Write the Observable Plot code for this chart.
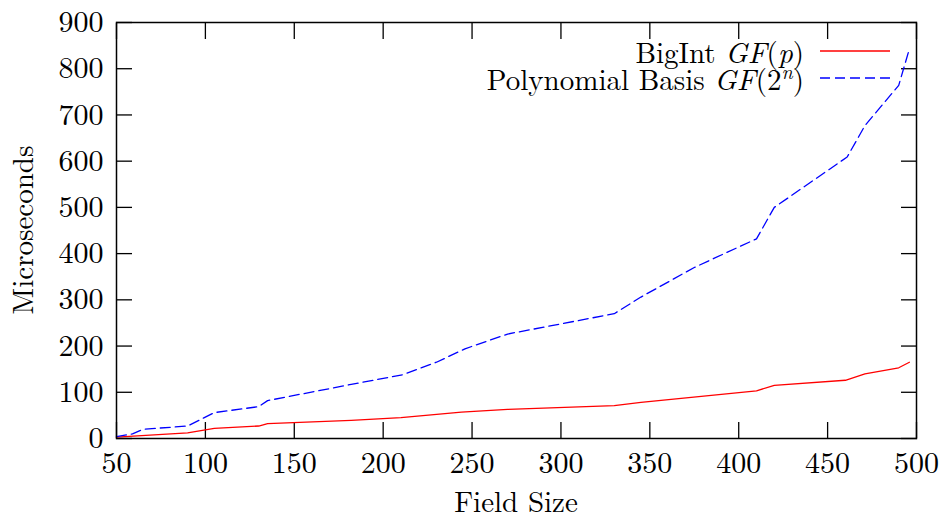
<!DOCTYPE html>
<html>
<head>
<meta charset="utf-8">
<script src="https://cdn.jsdelivr.net/npm/d3@7"></script>
<script src="https://cdn.jsdelivr.net/npm/@observablehq/plot@0.6"></script>
<style>
  html, body { margin: 0; padding: 0; background: #fff; }
  #chart { width: 947px; height: 520px; }
</style>
</head>
<body>
<div id="chart"></div>
<script>
// Field sizes and timings (microseconds)
const bigIntX = [50, 90, 105, 130, 135, 182, 210, 244, 270, 330, 345, 410, 420, 460, 471, 490, 496];
const bigIntY = [3, 12, 22, 27, 32, 39, 45, 57, 63, 71, 78, 103, 115, 126, 140, 153, 165];
const polyX = [50, 59, 65, 90, 105, 130, 135, 182, 211, 230, 246, 270, 330, 345, 375, 410, 420, 461, 471, 490, 496];
const polyY = [4, 10, 20, 27, 56, 69, 82, 117, 138, 165, 194, 226, 270, 306, 370, 432, 500, 609, 677, 764, 843];
const xTicks = [50, 100, 150, 200, 250, 300, 350, 400, 450, 500];
const yTicks = [0, 100, 200, 300, 400, 500, 600, 700, 800, 900];

const bigInt = bigIntX.map((x, i) => ({x, y: bigIntY[i]}));
const poly = polyX.map((x, i) => ({x, y: polyY[i]}));

const font = "Latin Modern Roman, serif";

const chart = Plot.plot({
  width: 947,
  height: 520,
  marginLeft: 116,
  marginRight: 31,
  marginTop: 22,
  marginBottom: 82,
  style: {fontFamily: font, fontSize: "30px", color: "#000", background: "#fff"},
  x: {domain: [50, 500]},
  y: {domain: [0, 900]},
  marks: [
    Plot.axisX(xTicks, {anchor: "bottom", tickSize: -16, tickPadding: 29, stroke: "#000", strokeWidth: 1.3, label: null}),
    Plot.axisX(xTicks, {anchor: "top", tickSize: -16, tickFormat: () => "", stroke: "#000", strokeWidth: 1.3, label: null}),
    Plot.axisY(yTicks, {anchor: "left", tickSize: -16, tickPadding: 29, stroke: "#000", strokeWidth: 1.3, label: null}),
    Plot.axisY(yTicks, {anchor: "right", tickSize: -16, tickFormat: () => "", stroke: "#000", strokeWidth: 1.3, label: null}),
    Plot.line(bigInt, {x: "x", y: "y", stroke: "#ff0000", strokeWidth: 1.3}),
    Plot.line(poly, {x: "x", y: "y", stroke: "#0000ff", strokeWidth: 1.3, strokeDasharray: "10,5"}),
    Plot.frame({stroke: "#000", strokeWidth: 1.5})
  ]
});

const svg = d3.select(chart);
// Axis titles
svg.append("text")
  .attr("x", 516).attr("y", 512)
  .attr("text-anchor", "middle")
  .attr("font-family", font).attr("font-size", 29)
  .text("Field Size");
svg.append("text")
  .attr("transform", "translate(33,230) rotate(-90)")
  .attr("text-anchor", "middle")
  .attr("font-family", font).attr("font-size", 29)
  .text("Microseconds");

// Legend
const leg = svg.append("g").attr("font-family", font).attr("font-size", 29);
const t1 = leg.append("text").attr("x", 804).attr("y", 63).attr("text-anchor", "end");
t1.append("tspan").text("BigInt ");
t1.append("tspan").attr("font-style", "italic").text("GF");
t1.append("tspan").text("(");
t1.append("tspan").attr("font-style", "italic").text("p");
t1.append("tspan").text(")");
const t2 = leg.append("text").attr("x", 804).attr("y", 90).attr("text-anchor", "end");
t2.append("tspan").text("Polynomial Basis ");
t2.append("tspan").attr("font-style", "italic").text("GF");
t2.append("tspan").text("(2");
t2.append("tspan").attr("font-style", "italic").attr("font-size", 20).attr("dy", -11).text("n");
t2.append("tspan").attr("dy", 11).text(")");
leg.append("line").attr("x1", 820).attr("x2", 890).attr("y1", 51).attr("y2", 51)
  .attr("stroke", "#ff0000").attr("stroke-width", 1.3);
leg.append("line").attr("x1", 820).attr("x2", 890).attr("y1", 78).attr("y2", 78)
  .attr("stroke", "#0000ff").attr("stroke-width", 1.3).attr("stroke-dasharray", "10,5");

document.getElementById("chart").appendChild(chart);
</script>
</body>
</html>
